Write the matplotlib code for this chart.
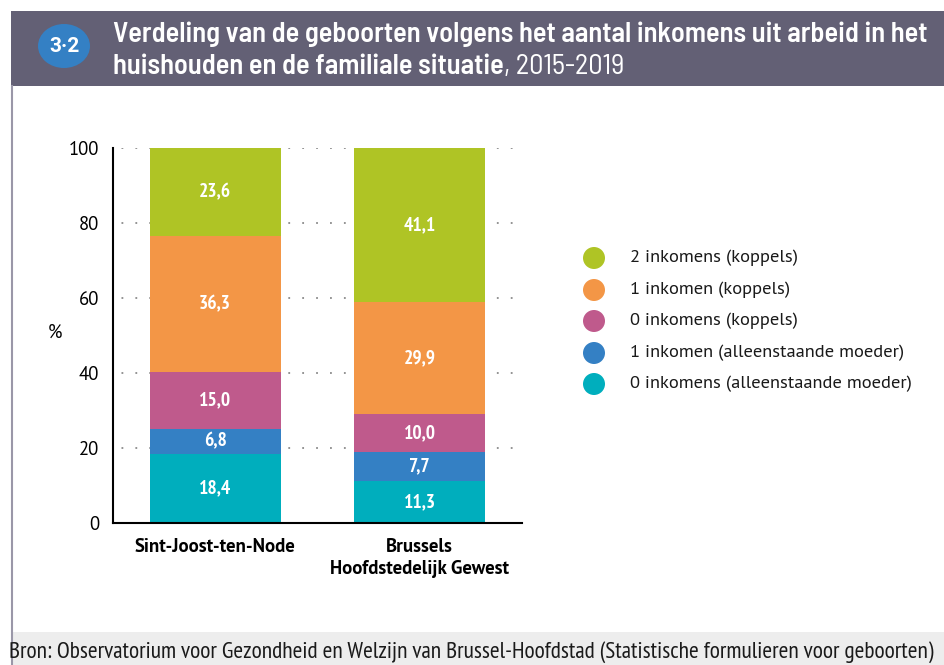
import matplotlib
matplotlib.use("Agg")
import matplotlib.pyplot as plt
from matplotlib.patches import Rectangle, Ellipse
import numpy as np

W, H = 945, 665

categories = ["Sint-Joost-ten-Node", "Brussels\nHoofdstedelijk Gewest"]
series_names = [
    "0 inkomens (alleenstaande moeder)",
    "1 inkomen (alleenstaande moeder)",
    "0 inkomens (koppels)",
    "1 inkomen (koppels)",
    "2 inkomens (koppels)",
]
values = {
    "0 inkomens (alleenstaande moeder)": [18.4, 11.3],
    "1 inkomen (alleenstaande moeder)": [6.8, 7.7],
    "0 inkomens (koppels)": [15.0, 10.0],
    "1 inkomen (koppels)": [36.3, 29.9],
    "2 inkomens (koppels)": [23.6, 41.1],
}
colors = {
    "0 inkomens (alleenstaande moeder)": "#00AEBD",
    "1 inkomen (alleenstaande moeder)": "#3480C4",
    "0 inkomens (koppels)": "#BF5A8C",
    "1 inkomen (koppels)": "#F39646",
    "2 inkomens (koppels)": "#AFC425",
}
yticks = [0, 20, 40, 60, 80, 100]

TITLE_F = ["Barlow Semi Condensed", "DejaVu Sans"]
NARROW = ["PT Sans Narrow", "DejaVu Sans"]
BODY = ["PT Sans", "DejaVu Sans"]


def px(x, y):
    # pixel coords (top-left origin) -> figure fraction
    return x / W, 1 - y / H


def fit_width(t, target):
    fig.canvas.draw()
    w = t.get_window_extent().width
    t.set_fontsize(t.get_fontsize() * target / w)


fig = plt.figure(figsize=(W / 100, H / 100), dpi=100)
fig.patch.set_facecolor("white")

# frame, header and footer
fig.add_artist(Rectangle(px(11, 86), 934 / W, 75 / H, transform=fig.transFigure,
                         facecolor="#636075", edgecolor="none"))
fig.add_artist(Rectangle(px(11, 665), 934 / W, 33 / H, transform=fig.transFigure,
                         facecolor="#EDEDED", edgecolor="none"))
fig.add_artist(plt.Line2D([12 / W, 12 / W], [1 - 86 / H, 0], transform=fig.transFigure,
                          color="#9A97A8", lw=1.5))
fig.add_artist(Ellipse(px(64, 46), 52 / W, 44 / H, transform=fig.transFigure,
                       facecolor="#3480C4", edgecolor="none"))
fig.text(*px(64, 47), "3·2", color="white", fontsize=15, fontweight="bold",
         ha="center", va="center", family=["Roboto", "DejaVu Sans"])
t1 = fig.text(*px(113, 34), "Verdeling van de geboorten volgens het aantal inkomens uit arbeid in het",
              color="white", fontsize=19, fontweight="semibold", ha="left", va="center",
              family=TITLE_F)
fit_width(t1, 817)
fs = t1.get_fontsize()
t2 = fig.text(*px(113, 67), "huishouden en de familiale situatie",
              color="white", fontsize=fs, fontweight="semibold", ha="left", va="center",
              family=TITLE_F)
fig.canvas.draw()
bb = t2.get_window_extent()
fig.text(bb.x1 / W, 1 - 67 / H, ", 2015-2019", color="white", fontsize=fs,
         ha="left", va="center", family=TITLE_F)
tf = fig.text(*px(9, 652), "Bron: Observatorium voor Gezondheid en Welzijn van Brussel-Hoofdstad "
              "(Statistische formulieren voor geboorten)",
              color="#1a1a1a", fontsize=13, ha="left", va="center", family=NARROW)
fit_width(tf, 916)

# chart
ax = fig.add_axes([113 / W, 1 - 523 / H, 409 / W, 375 / H])
x = np.arange(len(categories))
bottom = np.zeros(len(categories))
for name in series_names:
    v = np.array(values[name])
    ax.bar(x, v, bottom=bottom, width=0.64, color=colors[name], zorder=2)
    for xi, b, vi in zip(x, bottom, v):
        ax.text(xi, b + vi / 2, f"{vi:.1f}".replace(".", ","), ha="center", va="center",
                color="white", fontsize=14, fontweight="bold", family=NARROW, zorder=3)
    bottom += v

ax.set_xlim(-0.5, 1.5)
ax.set_ylim(0, 100)
ax.set_yticks(yticks)
ax.set_yticklabels([str(v) for v in yticks], fontsize=13.5, family=BODY)
ax.tick_params(axis="y", length=0, pad=10)
ax.tick_params(axis="x", length=0, pad=11)
ax.set_xticks(x)
ax.set_xticklabels(categories, fontsize=13.5, fontweight="bold", family=BODY, linespacing=1.3)
for yv in yticks[1:]:
    ax.axhline(yv, color="#8a8a8a", lw=1.3, linestyle=(3, (1, 6.7)), zorder=1)
for s in ["top", "right"]:
    ax.spines[s].set_visible(False)
ax.spines["left"].set_linewidth(1.5)
ax.spines["bottom"].set_linewidth(1.5)
fig.text(*px(55, 333), "%", fontsize=13.5, ha="center", va="center", family=BODY)

# legend
leg_y = [258, 290, 321, 353, 384]
for name, ly in zip(series_names[::-1], leg_y):
    fig.add_artist(Ellipse(px(594, ly), 22 / W, 22 / H, transform=fig.transFigure,
                           facecolor=colors[name], edgecolor="none"))
    fig.text(*px(630, ly), name, fontsize=13.3, ha="left", va="center", family=BODY,
             color="#1a1a1a")

fig.savefig("out.png", dpi=100)
